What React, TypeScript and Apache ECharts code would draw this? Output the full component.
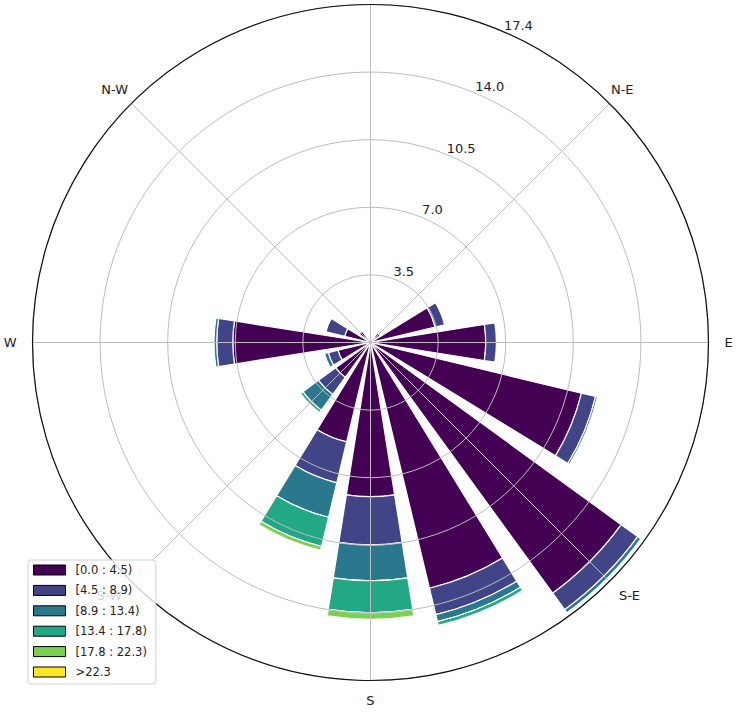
import React, { useEffect, useRef } from "react";
import * as echarts from "echarts";

// 16 wind directions, clockwise from North
const directions = ["N", "NNE", "NE", "ENE", "E", "ESE", "SE", "SSE", "S", "SSW", "SW", "WSW", "W", "WNW", "NW", "NNW"];

// speed bins (legend labels)
const binLabels = ["[0.0 : 4.5)", "[4.5 : 8.9)", "[8.9 : 13.4)", "[13.4 : 17.8)", "[17.8 : 22.3)", ">22.3"];
const binColors = ["#440154", "#414487", "#2a788e", "#22a884", "#7ad151", "#fde725"];

// frequency (%) per direction for each speed bin
const bin0 = [0, 0, 0.6, 3.43, 5.95, 11.2, 16.0, 13.05, 7.96, 5.28, 2.22, 1.72, 7.11, 1.37, 0.72, 0];
const bin1 = [0, 0, 0, 0.5, 0.55, 0.75, 1.05, 1.4, 2.49, 2.17, 1.1, 0.52, 0.83, 1.0, 0, 0];
const bin2 = [0, 0, 0, 0, 0, 0.1, 0.2, 0.37, 1.85, 1.83, 1.0, 0.2, 0.14, 0, 0, 0];
const bin3 = [0, 0, 0, 0, 0, 0, 0, 0.2, 1.65, 1.55, 0.15, 0, 0, 0, 0, 0];
const bin4 = [0, 0, 0, 0, 0, 0, 0, 0, 0.34, 0.2, 0, 0, 0, 0, 0, 0];
const bin5 = [0, 0, 0, 0, 0, 0, 0, 0, 0, 0, 0, 0, 0, 0, 0, 0];

// radial grid
const radialMax = 17.45;
const radialStep = 3.49;
const radialTickLabels = ["3.5", "7.0", "10.5", "14.0", "17.4"];

// compass labels for the 8 spokes (N lies outside the visible area)
const compassLabels = ["", "N-E", "E", "S-E", "S", "S-W", "W", "N-W"];
const compassStyles = ["n", "ne", "e", "se", "s", "sw", "w", "nw"];

export default function App() {
  const ref = useRef<HTMLDivElement>(null);

  useEffect(() => {
    if (!ref.current) return;
    const chart = echarts.init(ref.current, undefined, { renderer: "svg" });
    const cx = 370.5;
    const cy = 342.5;
    const R = 338;
    const font = "DejaVu Sans";
    const bins = [bin0, bin1, bin2, bin3, bin4, bin5];
    const lab = (padding: number[]) => ({
      fontSize: 13,
      fontFamily: font,
      color: "#222",
      lineHeight: 15,
      padding,
    });

    const option: any = {
      animation: false,
      backgroundColor: "#ffffff",
      textStyle: { fontFamily: font },
      polar: [
        { center: [cx, cy], radius: R },
        { center: [cx, cy], radius: R },
        { center: [cx, cy], radius: [11, R + 12] },
      ],
      angleAxis: [
        {
          polarIndex: 0,
          type: "category",
          data: directions,
          startAngle: 90 + 11.25,
          clockwise: true,
          axisLine: { show: false },
          axisTick: { show: false },
          axisLabel: { show: false },
          splitLine: { show: false },
        },
        {
          polarIndex: 1,
          type: "value",
          min: 0,
          max: 360,
          interval: 45,
          startAngle: 90,
          clockwise: true,
          z: 5,
          zlevel: 1,
          axisLine: { show: true, lineStyle: { color: "#111", width: 1.2 } },
          axisTick: { show: false },
          axisLabel: {
            show: true,
            margin: 2,
            fontSize: 13,
            fontFamily: font,
            color: "#222",
            formatter: (v: number) => {
              const i = Math.round(v / 45);
              if (i < 0 || i > 7 || !compassLabels[i]) return "";
              return "{" + compassStyles[i] + "|" + compassLabels[i] + "}";
            },
            rich: {
              n: lab([0, 0, 10, 0]),
              ne: lab([0, 0, 10, 0]),
              e: lab([0, 0, 0, 14]),
              se: lab([10, 0, 0, 8]),
              s: lab([20, 0, 0, 0]),
              sw: lab([10, 8, 0, 0]),
              w: lab([0, 14, 0, 0]),
              nw: lab([0, 2, 10, 0]),
            },
          },
          splitLine: { show: true, lineStyle: { color: "#bdbdbd", width: 1 } },
        },
        {
          polarIndex: 2,
          type: "value",
          min: 0,
          max: 360,
          startAngle: 65,
          clockwise: true,
          axisLine: { show: false },
          axisTick: { show: false },
          axisLabel: { show: false },
          splitLine: { show: false },
        },
      ],
      radiusAxis: [
        {
          polarIndex: 0,
          type: "value",
          min: 0,
          max: radialMax,
          axisLine: { show: false },
          axisTick: { show: false },
          axisLabel: { show: false },
          splitLine: { show: false },
        },
        {
          polarIndex: 1,
          type: "value",
          min: 0,
          max: radialMax,
          interval: radialStep,
          z: 5,
          zlevel: 1,
          axisLine: { show: false },
          axisTick: { show: false },
          axisLabel: { show: false },
          splitLine: { show: true, lineStyle: { color: "#bdbdbd", width: 1 } },
        },
        {
          polarIndex: 2,
          type: "value",
          min: 0,
          max: radialMax,
          interval: radialStep,
          z: 6,
          zlevel: 1,
          axisLine: { show: false },
          axisTick: { show: false },
          splitLine: { show: false },
          axisLabel: {
            show: true,
            margin: 0,
            align: "center",
            verticalAlign: "middle",
            fontSize: 13,
            fontFamily: font,
            color: "#222",
            showMinLabel: false,
            formatter: (v: number) => {
              const i = Math.round(v / radialStep) - 1;
              return i >= 0 && i < radialTickLabels.length ? radialTickLabels[i] : "";
            },
          },
        },
      ],
      legend: {
        orient: "vertical",
        left: 28,
        top: 560,
        z: 10,
        zlevel: 2,
        data: binLabels,
        selectedMode: false,
        icon: "rect",
        itemWidth: 32,
        itemHeight: 10,
        itemGap: 6.4,
        padding: [3, 9, 5, 5],
        backgroundColor: "rgba(255,255,255,0.8)",
        borderColor: "#d0d0d0",
        borderWidth: 1,
        borderRadius: 3,
        itemStyle: { borderColor: "#000", borderWidth: 1 },
        textStyle: {
          fontFamily: font,
          fontSize: 11.5,
          color: "#222",
          lineHeight: 14,
          padding: [0, 0, 0, 5],
        },
      },
      series: bins.map((b, k) => ({
        type: "bar",
        name: binLabels[k],
        coordinateSystem: "polar",
        polarIndex: 0,
        stack: "wind",
        barWidth: "80%",
        z: 2,
        zlevel: 0,
        itemStyle: { color: binColors[k], borderColor: "#ffffff", borderWidth: 1.2 },
        data: b.map((v) => (v > 0 ? v : null)),
      })),
    };

    chart.setOption(option);
    return () => chart.dispose();
  }, []);

  return (
    <div
      ref={ref}
      style={{ position: "fixed", left: 0, top: 0, width: 736, height: 714 }}
    />
  );
}
